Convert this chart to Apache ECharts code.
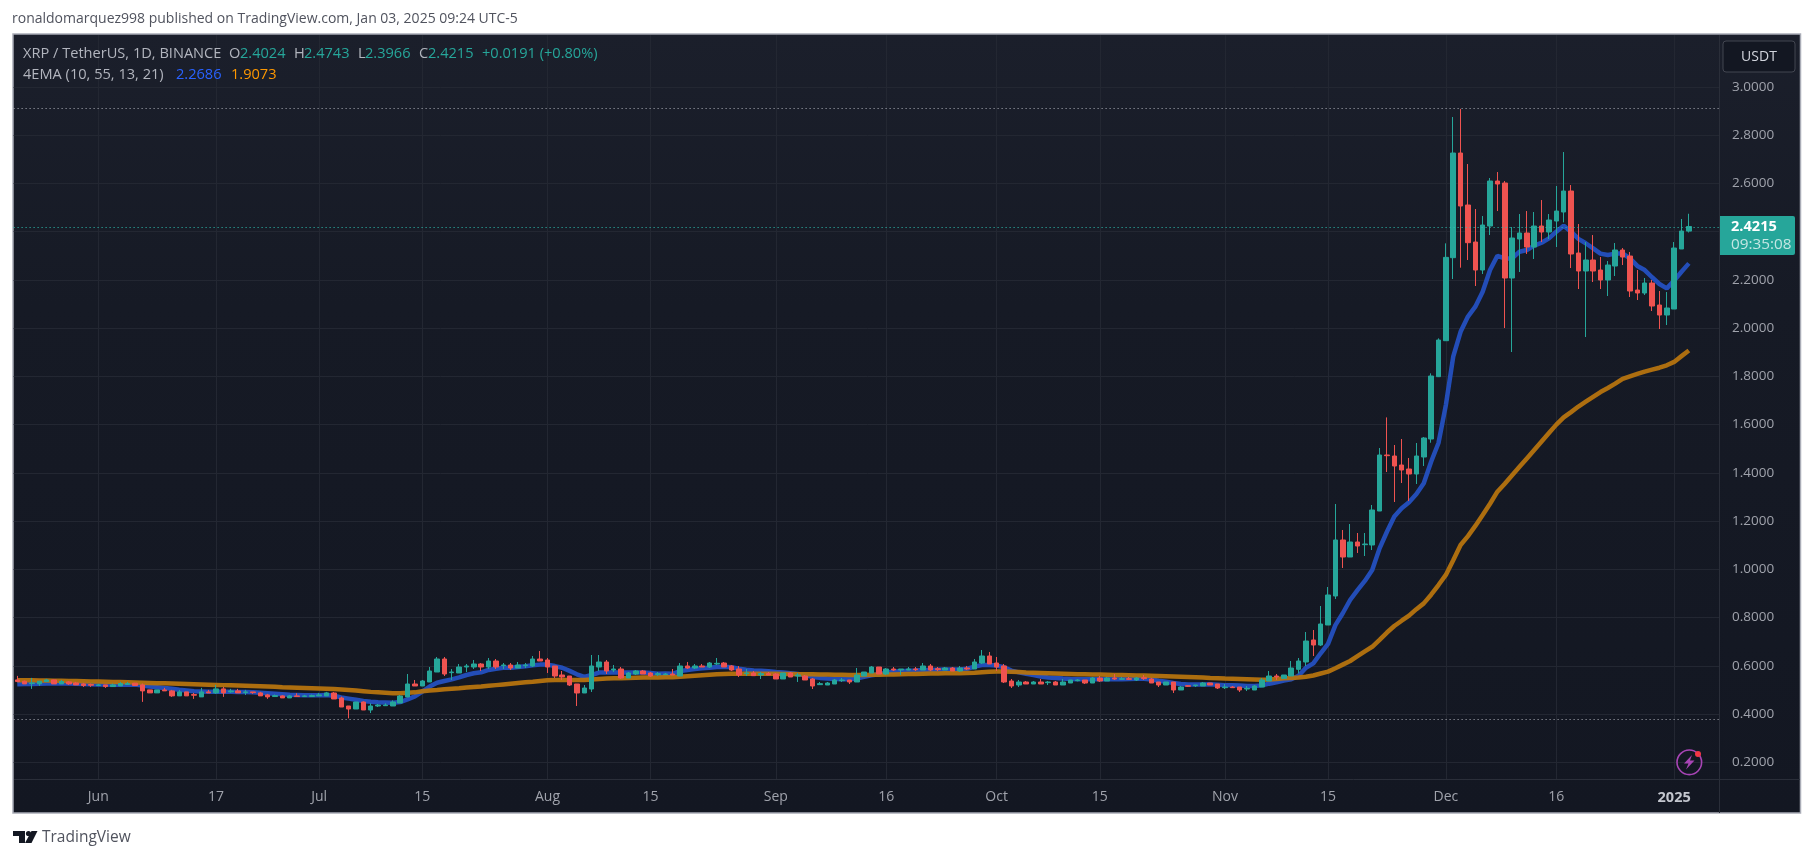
<!DOCTYPE html>
<html><head><meta charset="utf-8">
<style>html,body{margin:0;padding:0;background:#fff}#c{width:1814px;height:858px}</style>
<script src="https://cdn.jsdelivr.net/npm/echarts@6/dist/echarts.min.js"></script>
</head><body><div id="c"></div>
<script>
const firstDay='2024-05-21', dayCount=232;
const tickDates=['2024-06-01','2024-06-17','2024-07-01','2024-07-15','2024-08-01','2024-08-15','2024-09-01','2024-09-16','2024-10-01','2024-10-15','2024-11-01','2024-11-15','2024-12-01','2024-12-16','2025-01-01'];
const tickLabels=['Jun','17','Jul','15','Aug','15','Sep','16','Oct','15','Nov','15','Dec','16','2025'];
const priceTicks=[0.2,0.4,0.6,0.8,1,1.2,1.4,1.6,1.8,2,2.2,2.4,2.6,2.8,3];
const rangeHigh=2.9091, rangeLow=0.3823, lastClose=2.4215;
// open, close, low, high
const ohlc=[
[.5417,.5348,.5334,.5583],[.5362,.5251,.5251,.5389],[.5265,.5292,.5044,.5500],[.5251,.5362,.5168,.5375],[.5348,.5417,.5348,.5458],
[.5417,.5251,.5251,.5430],[.5251,.5348,.5251,.5417],[.5334,.5251,.5210,.5362],[.5292,.5210,.5210,.5334],[.5251,.5182,.5127,.5292],
[.5224,.5196,.5127,.5265],[.5182,.5210,.5168,.5251],[.5210,.5141,.5085,.5210],[.5141,.5210,.5127,.5265],[.5168,.5265,.5168,.5334],
[.5224,.5265,.5210,.5334],[.5279,.5182,.5168,.5293],[.5210,.4961,.4505,.5265],[.5002,.4878,.4878,.5002],[.4878,.5002,.4878,.5002],
[.5002,.4961,.4961,.5085],[.4961,.4754,.4712,.5002],[.4754,.4919,.4754,.5002],[.4919,.4754,.4754,.4919],[.4809,.4781,.4629,.4878],
[.4712,.4919,.4712,.5085],[.4919,.4878,.4878,.5002],[.4878,.5044,.4836,.5210],[.5044,.4878,.4712,.5127],[.4919,.4961,.4878,.5044],
[.4961,.4878,.4878,.5044],[.4892,.4919,.4795,.5002],[.4919,.4892,.4836,.4919],[.4878,.4754,.4754,.4919],[.4795,.4712,.4629,.4836],
[.4726,.4767,.4712,.4809],[.4754,.4670,.4670,.4781],[.4670,.4754,.4670,.4795],[.4754,.4726,.4712,.4864],[.4726,.4754,.4712,.4795],
[.4726,.4767,.4712,.4809],[.4754,.4795,.4754,.4878],[.4754,.4878,.4754,.4919],[.4874,.4625,.4625,.4915],[.4666,.4293,.4293,.4722],
[.4335,.4210,.3823,.4335],[.4210,.4500,.4210,.4500],[.4500,.4169,.4169,.4528],[.4169,.4335,.4044,.4445],[.4335,.4376,.4293,.4418],
[.4348,.4376,.4335,.4445],[.4335,.4500,.4335,.4570],[.4459,.4749,.4459,.4791],[.4708,.5247,.4708,.5661],[.5247,.5164,.5164,.5413],
[.5164,.5371,.5164,.5413],[.5330,.5786,.5330,.5952],[.5744,.6283,.5744,.6366],[.6283,.5661,.5578,.6366],[.5717,.5744,.5413,.5869],
[.5703,.5952,.5703,.6076],[.5952,.5993,.5744,.6076],[.5952,.6076,.5869,.6242],[.6076,.5952,.5786,.6117],[.5952,.6200,.5869,.6325],
[.6200,.5952,.5869,.6283],[.6007,.6035,.5869,.6117],[.6035,.5910,.5827,.6117],[.5910,.6035,.5910,.6159],[.6007,.6035,.5910,.6117],
[.5993,.6283,.5952,.6408],[.6283,.6200,.6200,.6615],[.6242,.5952,.5703,.6325],[.5993,.5578,.5496,.5993],[.5620,.5537,.5413,.5786],
[.5578,.5205,.5164,.5578],[.5247,.4874,.4335,.5247],[.4874,.5081,.4874,.5205],[.5039,.5993,.4915,.6449],[.5952,.6159,.5786,.6449],
[.6159,.5786,.5661,.6242],[.5827,.5869,.5744,.6035],[.5869,.5496,.5454,.5952],[.5496,.5703,.5496,.5744],[.5661,.5786,.5620,.5827],
[.5786,.5661,.5661,.5827],[.5703,.5578,.5537,.5744],[.5634,.5675,.5578,.5744],[.5634,.5661,.5620,.5703],[.5661,.5620,.5620,.5869],
[.5578,.5993,.5578,.6117],[.5993,.5910,.5869,.6159],[.5910,.5993,.5869,.6076],[.5993,.5952,.5952,.6076],[.5952,.6117,.5910,.6159],
[.6076,.6104,.6035,.6325],[.6117,.5952,.5952,.6159],[.5993,.5827,.5786,.6035],[.5869,.5620,.5537,.5993],[.5675,.5703,.5578,.5869],
[.5703,.5592,.5578,.5786],[.5620,.5675,.5454,.5744],[.5675,.5620,.5620,.5744],[.5661,.5454,.5454,.5703],[.5454,.5703,.5454,.5703],
[.5703,.5537,.5537,.5744],[.5578,.5620,.5330,.5703],[.5578,.5413,.5413,.5620],[.5454,.5164,.5039,.5496],[.5220,.5261,.5205,.5330],
[.5205,.5288,.5205,.5330],[.5247,.5413,.5247,.5454],[.5385,.5413,.5330,.5496],[.5413,.5330,.5247,.5413],[.5330,.5620,.5330,.5910],
[.5578,.5744,.5578,.5744],[.5703,.5952,.5703,.5993],[.5952,.5661,.5661,.5952],[.5661,.5869,.5620,.5910],[.5869,.5827,.5786,.5952],
[.5827,.5869,.5620,.5869],[.5827,.5869,.5827,.5952],[.5869,.5840,.5786,.5952],[.5827,.5993,.5827,.6117],[.5993,.5827,.5786,.6076],
[.5882,.5840,.5786,.5952],[.5827,.5910,.5827,.5952],[.5910,.5786,.5786,.5952],[.5786,.5910,.5744,.5993],[.5910,.5869,.5827,.5993],
[.5869,.6159,.5869,.6283],[.6117,.6408,.6076,.6656],[.6408,.6076,.6076,.6573],[.6117,.5952,.5786,.6366],[.5993,.5330,.5288,.6076],
[.5371,.5164,.5081,.5454],[.5205,.5330,.5122,.5413],[.5330,.5247,.5247,.5371],[.5247,.5330,.5247,.5371],[.5330,.5247,.5247,.5454],
[.5302,.5330,.5205,.5371],[.5330,.5205,.5205,.5371],[.5205,.5330,.5205,.5454],[.5288,.5413,.5288,.5413],[.5385,.5413,.5357,.5454],
[.5413,.5288,.5247,.5413],[.5288,.5496,.5288,.5537],[.5496,.5371,.5330,.5578],[.5371,.5496,.5371,.5537],[.5496,.5454,.5413,.5661],
[.5440,.5468,.5413,.5537],[.5468,.5440,.5413,.5537],[.5413,.5496,.5371,.5537],[.5510,.5468,.5413,.5620],[.5454,.5288,.5288,.5496],
[.5330,.5205,.5122,.5330],[.5205,.5330,.5205,.5330],[.5330,.4998,.4874,.5330],[.4998,.5122,.4998,.5164],[.5178,.5150,.5122,.5205],
[.5178,.5205,.5122,.5205],[.5164,.5288,.5164,.5330],[.5288,.5205,.5205,.5288],[.5247,.5081,.5039,.5247],[.5095,.5122,.5039,.5247],
[.5122,.5095,.5081,.5164],[.5122,.4998,.4915,.5122],[.5039,.5067,.4957,.5164],[.4998,.5164,.4998,.5205],[.5122,.5413,.5122,.5496],
[.5371,.5578,.5371,.5786],[.5578,.5537,.5413,.5661],[.5481,.5620,.5481,.5620],[.5578,.5910,.5578,.6200],[.5855,.6200,.5689,.6324],
[.6159,.7029,.5993,.7403],[.7071,.6863,.6408,.7485],[.6863,.7734,.6822,.8480],[.7693,.8937,.7693,.9268],[.8895,1.1217,.8771,1.2709],
[1.1217,1.0512,1.0056,1.1631],[1.0512,1.1134,1.0512,1.1880],[1.1134,1.0968,1.0678,1.1507],[1.1023,1.1051,1.0553,1.1507],[1.1010,1.2461,1.0802,1.2668],
[1.2419,1.4741,1.2419,1.5031],[1.4741,1.4713,1.4036,1.6300],[1.4699,1.4285,1.2792,1.5156],[1.4326,1.4119,1.3580,1.5404],[1.4160,1.3953,1.2834,1.4617],
[1.3953,1.4699,1.3539,1.5238],[1.4658,1.5446,1.4285,1.5487],[1.5404,1.8016,1.5250,1.8127],[1.7988,1.9508,1.8472,1.9577],[1.9480,2.2935,1.9480,2.3516],
[2.2922,2.7261,2.2037,2.8754],[2.7261,2.5064,2.2507,2.9091],[2.5105,2.3543,2.2825,2.6805],[2.3571,2.2410,2.1747,2.4939],[2.2410,2.4276,2.2244,2.4649],
[2.4235,2.6100,2.3861,2.6225],[2.6100,2.5976,2.4856,2.6473],[2.6017,2.2079,2.0006,2.6100],[2.2079,2.3737,1.9010,2.4193],[2.3695,2.3944,2.2327,2.4732],
[2.3944,2.3364,2.3074,2.4856],[2.3364,2.4234,2.2866,2.4815],[2.4234,2.3986,2.3571,2.5312],[2.3986,2.4483,2.3695,2.4732],[2.4442,2.4856,2.3364,2.5893],
[2.4815,2.5685,2.4386,2.7302],[2.5685,2.3074,2.2493,2.5934],[2.3115,2.2369,2.1622,2.4317],[2.2369,2.2825,1.9632,2.3571],[2.2825,2.2369,2.1913,2.3861],
[2.2410,2.1996,2.1622,2.2949],[2.1996,2.2617,2.1332,2.2783],[2.2576,2.3239,2.2161,2.3530],[2.3239,2.2949,2.2617,2.3322],[2.2990,2.1540,2.1291,2.3157],
[2.1581,2.1457,2.1166,2.2410],[2.1457,2.1871,2.1374,2.2079],[2.1871,2.0918,2.0710,2.1996],[2.0959,2.0544,1.9964,2.1540],[2.0544,2.0835,2.0130,2.1498],
[2.0793,2.3322,2.0793,2.3571],[2.3281,2.4027,2.3281,2.4525],[2.4024,2.4215,2.3966,2.4743]];
const ema10=[.524,.525,.525,.526,.527,.527,.527,.527,.526,.525,.524,.523,.523,.522,.522,.522,.522,
.518,.514,.511,.508,.505,.501,.498,.495,.494,.493,.493,.493,.493,.492,.491,.490,.488,.486,.484,.482,.480,.479,.478,.478,.478,.479,
.476,.469,.464,.459,.454,.451,.449,.448,.447,.450,.461,.473,.493,.514,.530,.537,.544,.552,.562,.569,.573,.583,.588,.592,.592,.595,.598,.602,.605,.605,.599,.592,.579,.565,.554,.562,.572,.572,.572,.572,.572,.572,.572,
.570,.567,.568,.567,.578,.583,.587,.590,.592,.595,.596,.594,.588,.584,.581,.580,.578,.574,.572,.569,.566,.561,.554,.550,.547,.545,.544,.544,.547,.554,.561,.565,.572,.576,.578,.580,.581,.583,.583,.584,.585,.585,.585,
.588,.597,.603,.603,.601,.594,.580,.573,.567,.562,.556,.552,.550,.547,.545,.544,.544,.544,.544,.544,.544,.544,.545,.546,.546,.543,.538,.534,.529,.525,.523,.523,.523,.524,.522,.520,.519,.518,.516,.516,.519,.526,.532,
.539,.544,.559,.592,.610,.652,.691,.769,.818,.873,.914,.952,.997,1.087,1.156,1.219,1.253,1.278,1.312,1.357,1.446,1.524,1.681,1.882,1.985,2.048,2.089,2.151,2.241,2.300,2.289,2.289,2.317,2.324,2.342,2.354,2.372,2.400,2.425,2.400,2.370,2.352,2.331,2.309,2.303,2.309,2.310,2.289,2.258,2.241,2.211,2.183,2.165,2.197,2.234,2.2686];
const ema55=[.540,.540,.540,.539,.539,.538,.538,.537,.537,.536,.535,.535,.534,.533,.533,.532,.531,.530,
.529,.528,.528,.527,.526,.525,.524,.523,.522,.521,.520,.519,.518,.517,.516,.515,.514,.513,.511,
.510,.509,.508,.507,.506,.505,.504,.502,.500,.498,.495,.492,.490,.488,.486,
.486,.488,.490,.495,.498,.500,.503,.505,.507,.510,.512,.514,.517,.520,.523,.526,.529,.532,.534,.537,.540,.541,.541,.541,.541,.541,.543,.545,.547,.548,.549,.550,.551,.552,
.552,.552,.553,.553,.555,.557,.559,.561,.563,.565,.566,.567,.567,.567,.567,.567,.567,.567,.566,.566,.565,.565,.565,.564,.564,.563,.563,.562,.562,.562,.563,.563,.564,.564,.565,.566,.566,.567,.568,.568,.569,.569,.569,
.570,.571,.573,.575,.576,.576,.575,.574,.572,.571,.570,.569,.568,.567,.566,.565,.565,.564,.564,.563,.562,.562,.561,.560,.560,.559,.558,.557,.556,.555,.554,.553,.552,.550,.549,.547,.546,.545,.544,.543,.542,.543,.545,
.548,.550,.552,.555,.560,.568,.576,.590,.605,.620,.640,.660,.679,.708,.738,.765,.787,.808,.835,.859,.895,.935,.977,1.038,1.101,1.138,1.180,1.225,1.272,1.322,1.355,1.390,1.425,1.460,1.495,1.530,1.565,1.600,1.630,1.652,1.675,1.695,1.715,1.735,1.752,1.770,1.790,1.800,1.810,1.820,1.828,1.836,1.846,1.860,1.884,1.9073];

const dates=[];const d0=new Date(firstDay+'T00:00:00Z');
for(let i=0;i<dayCount;i++){dates.push(new Date(d0.getTime()+i*864e5).toISOString().slice(0,10));}
const UI='"Open Sans",sans-serif';
const G='#26a69a',R='#ef5350',GRID='#232732',TXT='#b2b5be',AX='#a0a3ac';
const bgFill={type:'linear',x:0,y:0,x2:0,y2:1,colorStops:[{offset:0,color:'#1b1f2b'},{offset:.35,color:'#161a25'},{offset:1,color:'#131722'}]};
const T=(x,y,text,fill,extra)=>({type:'text',z:30,silent:true,x,y,style:Object.assign({text,fill,font:'14.6px '+UI,textVerticalAlign:'middle'},extra||{})});
const chart=echarts.init(document.getElementById('c'),null,{renderer:'canvas',width:1814,height:858});
chart.setOption({
 animation:false,backgroundColor:'#fff',
 grid:{left:13.6,top:35,width:1708.4,height:744,containLabel:false},
 xAxis:{type:'category',data:dates,boundaryGap:true,axisLine:{show:false},axisTick:{show:false},splitLine:{show:false},
  axisLabel:{margin:11,color:AX,fontFamily:UI,fontSize:14,
   interval:(i,v)=>tickDates.includes(v),
   formatter:v=>{const k=tickDates.indexOf(v);const s=tickLabels[k];return s==='2025'?'{b|2025}':s;},
   rich:{b:{fontWeight:'bold',color:'#c3c6ce',fontFamily:UI,fontSize:14.5}}}},
 yAxis:{type:'value',position:'right',min:0.1308,max:3.2154,scale:false,axisLine:{show:false},
  axisTick:{show:false,customValues:priceTicks},
  splitLine:{show:true,lineStyle:{color:GRID,width:1}},
  axisLabel:{margin:10,color:AX,fontFamily:UI,fontSize:13.5,customValues:priceTicks,formatter:v=>v.toFixed(4)}},
 series:[
  {type:'line',name:'grid',data:[],silent:true,z:1,showSymbol:false,
   markLine:{z:1,silent:true,symbol:'none',label:{show:false},animation:false,lineStyle:{color:GRID,width:1,type:'solid'},
    data:tickDates.map(v=>({xAxis:v}))}},
  {type:'line',name:'EMA 10',data:ema10,z:2,showSymbol:false,silent:true,smooth:false,lineStyle:{color:'#2450c0',width:4.5,opacity:.95}},
  {type:'line',name:'EMA 55',data:ema55,z:3,showSymbol:false,silent:true,smooth:false,lineStyle:{color:'#b5730f',width:4.5,opacity:.95}},
  {type:'candlestick',name:'XRP',data:ohlc,z:4,barWidth:5,silent:true,
   itemStyle:{color:G,color0:R,borderColor:G,borderColor0:R,borderColorDoji:G,borderWidth:1},
   markLine:{z:5,silent:true,symbol:'none',label:{show:false},animation:false,
    data:[{yAxis:rangeHigh,lineStyle:{color:'#b0b3bb',type:[1,3],width:1}},
          {yAxis:rangeLow,lineStyle:{color:'#b0b3bb',type:[1,3],width:1}},
          {yAxis:lastClose,lineStyle:{color:'#2fc4b5',type:[1,3],width:1}}]}}
 ],
 graphic:{elements:[
  {type:'rect',z:-10,silent:true,shape:{x:13,y:34,width:1787.5,height:779},style:{fill:bgFill,stroke:'#a9acb6',lineWidth:1.5}},
  {type:'rect',z:8,silent:true,shape:{x:1720,y:35,width:3.5,height:744},style:{fill:bgFill}},
  {type:'line',z:9,silent:true,shape:{x1:1719.5,y1:35,x2:1719.5,y2:813},style:{stroke:'#2a2e39',lineWidth:1}},
  {type:'line',z:9,silent:true,shape:{x1:14,y1:779.5,x2:1800,y2:779.5},style:{stroke:'#2a2e39',lineWidth:1}},
  T(12,19,'ronaldomarquez998 published on TradingView.com, Jan 03, 2025 09:24 UTC-5','#50535e',{font:'14px '+UI}),
  T(23,53.5,'XRP / TetherUS, 1D, BINANCE',TXT),
  T(229,53.5,'O',TXT),T(240,53.5,'2.4024',G),T(294,53.5,'H',TXT),T(304,53.5,'2.4743',G),T(358,53.5,'L',TXT),T(365,53.5,'2.3966',G),T(419,53.5,'C',TXT),T(428,53.5,'2.4215',G),T(482,53.5,'+0.0191 (+0.80%)',G),
  T(23,74.5,'4EMA (10, 55, 13, 21)',TXT),T(176,74.5,'2.2686','#2962ff'),T(231,74.5,'1.9073','#ff9800'),
  {type:'rect',z:20,silent:true,shape:{x:1723,y:41,width:72,height:31,r:3},style:{fill:'#131722',stroke:'#434651',lineWidth:1}},
  T(1759,57,'USDT','#d1d4dc',{textAlign:'center',font:'14px '+UI}),
  {type:'rect',z:20,silent:true,shape:{x:1720,y:216,width:75,height:39,r:[0,2,2,0]},style:{fill:G}},
  T(1731,227,'2.4215','#ffffff',{font:'bold 14.6px '+UI}),
  T(1731,245,'09:35:08','#c4e6e3',{font:'15.3px '+UI}),
  {type:'circle',z:25,silent:true,shape:{cx:1689.3,cy:762.3,r:12.3},style:{fill:'none',stroke:'#a845b5',lineWidth:1.6}},
  {type:'polygon',z:25,silent:true,shape:{points:[[1692,755],[1684,763.5],[1688.5,763.5],[1686,769.5],[1694.5,760.5],[1690,760.5]]},style:{fill:'#a845b5'}},
  {type:'circle',z:26,silent:true,shape:{cx:1698,cy:754,r:3},style:{fill:'#f23645'}},
  {type:'polygon',z:30,silent:true,shape:{points:[[13,831],[25,831],[25,843],[19,843],[19,836],[13,836]]},style:{fill:'#131722'}},
  {type:'circle',z:30,silent:true,shape:{cx:28.5,cy:833.5,r:2.6},style:{fill:'#131722'}},
  {type:'polygon',z:30,silent:true,shape:{points:[[31.5,831],[37.5,831],[31.5,843],[25,843]]},style:{fill:'#131722'}},
  T(42,838,'TradingView','#50535e',{font:'15.5px '+UI})
 ]}
});
</script></body></html>
